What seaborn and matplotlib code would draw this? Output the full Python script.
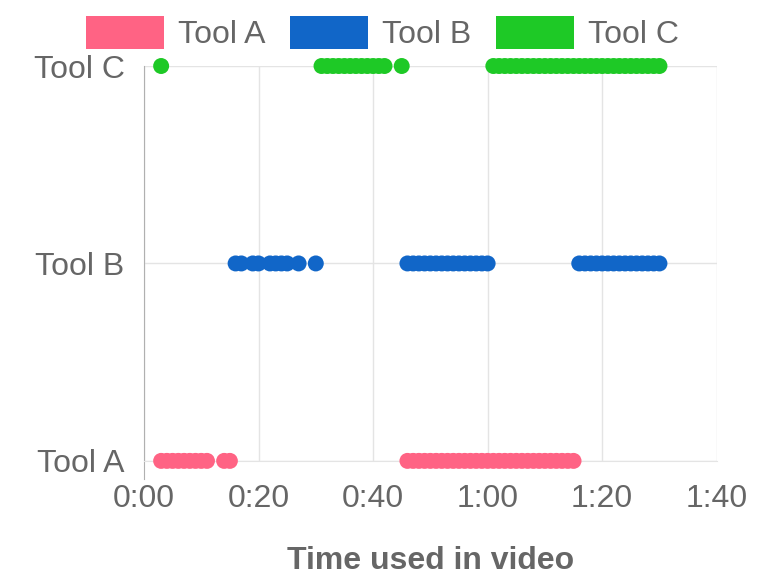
import matplotlib
matplotlib.use("Agg")
import matplotlib.pyplot as plt
import pandas as pd
import seaborn as sns
from matplotlib.patches import Patch
from matplotlib.ticker import FuncFormatter, MultipleLocator

# seconds into the video where each tool was in use
tool_a_times = [3, 4, 5, 6, 7, 8, 9, 10, 11, 14, 15,
                46, 47, 48, 49, 50, 51, 52, 53, 54, 55, 56, 57, 58, 59, 60,
                61, 62, 63, 64, 65, 66, 67, 68, 69, 70, 71, 72, 73, 74, 75]
tool_b_times = [16, 17, 19, 20, 22, 23, 24, 25, 27, 30,
                46, 47, 48, 49, 50, 51, 52, 53, 54, 55, 56, 57, 58, 59, 60,
                76, 77, 78, 79, 80, 81, 82, 83, 84, 85, 86, 87, 88, 89, 90]
tool_c_times = [3,
                31, 32, 33, 34, 35, 36, 37, 38, 39, 40, 41, 42, 45,
                61, 62, 63, 64, 65, 66, 67, 68, 69, 70, 71, 72, 73, 74, 75,
                76, 77, 78, 79, 80, 81, 82, 83, 84, 85, 86, 87, 88, 89, 90]

tools = ["Tool A", "Tool B", "Tool C"]
colors = {"Tool A": "#ff6384", "Tool B": "#1166c8", "Tool C": "#1ec926"}

rows = []
for name, times in zip(tools, [tool_a_times, tool_b_times, tool_c_times]):
    rows += [{"time": t, "tool": name} for t in times]
df = pd.DataFrame(rows)

sns.set_style("white")
plt.rcParams["font.family"] = ["Liberation Sans", "DejaVu Sans"]

text_col = "#666666"
grid_col = "#e4e4e4"

fig = plt.figure(figsize=(7.74, 5.79), dpi=100)
ax = fig.add_axes([0.186, 0.204, 0.740, 0.682])

sns.stripplot(data=df, x="time", y="tool", hue="tool", order=tools[::-1],
              hue_order=tools, palette=colors, jitter=False, size=11.5,
              linewidth=0, legend=False, ax=ax, zorder=3)
for coll in ax.collections:
    coll.set_clip_on(False)

ax.set_xlim(0, 100)
ax.set_ylim(2, 0)
ax.xaxis.set_major_locator(MultipleLocator(20))
ax.xaxis.set_major_formatter(FuncFormatter(lambda v, _: f"{int(v) // 60}:{int(v) % 60:02d}"))

ax.grid(True, color=grid_col, linewidth=1)
ax.set_axisbelow(True)
for side in ["top", "right"]:
    ax.spines[side].set_visible(False)
ax.spines["left"].set_color("#b0b0b0")
ax.spines["bottom"].set_color(grid_col)
ax.spines["left"].set_bounds(2.09, 0)
ax.tick_params(axis="both", length=13, width=1, color=grid_col,
               labelsize=23, labelcolor=text_col, pad=1)
ax.tick_params(axis="x", pad=4)

ax.set_ylabel("")
ax.set_xlabel("Time used in video", fontsize=23, fontweight="bold",
              color=text_col, labelpad=23)

handles = [Patch(facecolor=colors[t], edgecolor="none", label=t) for t in tools]
fig.legend(handles=handles, loc="upper center", bbox_to_anchor=(0.494, 1.022),
           ncol=3, frameon=False, fontsize=23, handlelength=2.45, handleheight=1.2,
           handletextpad=0.45, columnspacing=0.75, labelcolor=text_col)

fig.savefig("out.png", dpi=100)
